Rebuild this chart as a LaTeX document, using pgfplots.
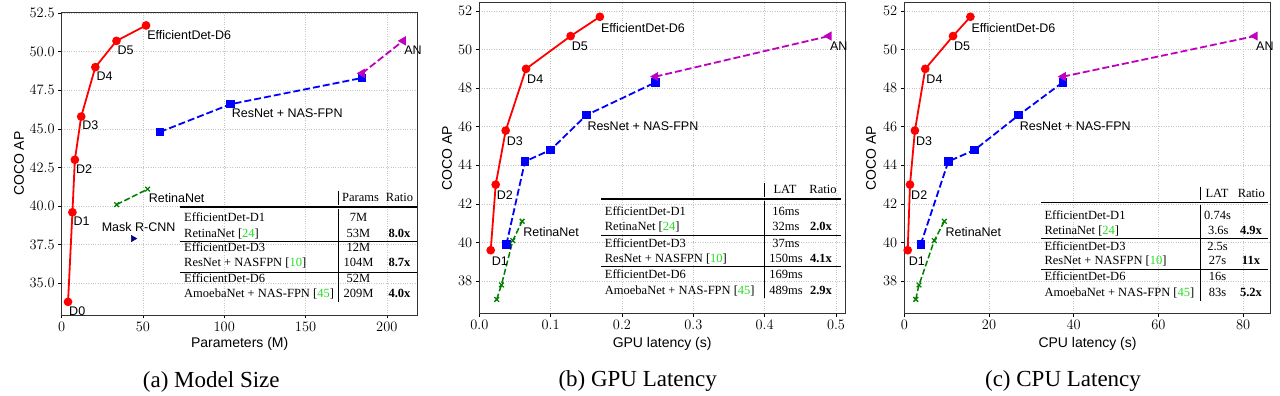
\documentclass[border=0pt]{standalone}
\usepackage{fontspec}
\setmainfont{Liberation Serif}
\newfontfamily\arial{Liberation Sans}
\usepackage{pgfplots}
\pgfplotsset{compat=1.18}
\definecolor{mplred}{HTML}{FF0000}
\definecolor{mplblue}{HTML}{0000FF}
\definecolor{mplgreen}{HTML}{008000}
\definecolor{mplmag}{HTML}{BF00BF}
\definecolor{mplnavy}{HTML}{000080}
\definecolor{citegreen}{HTML}{22E022}
\newcommand{\tabf}{\fontsize{12.5}{13}\selectfont}
\newcommand{\cit}[1]{[{\color{citegreen}#1}]}
\newcommand{\TL}[3]{\node[anchor=base west,inner sep=0pt,font=\tabf] at (#1,#2) {#3};}
\newcommand{\TC}[3]{\node[anchor=base,inner sep=0pt,font=\tabf] at (#1,#2) {#3};}
\pgfplotsset{
  common/.style={
    scale only axis, anchor=south west, clip=false,
    axis line style={black!80, line width=0.8pt},
    tick style={black, line width=0.6pt},
    tick align=outside, tick pos=left, major tick length=3.5pt,
    grid=major, major grid style={gray!45, dotted, line width=0.6pt},
    ticklabel style={font=\fontsize{14.5}{15}\selectfont},
    label style={font=\arial\fontsize{14}{15}\selectfont},
    ylabel={COCO AP},
  },
  effd/.style={color=mplred, line width=1.8pt, mark=*, mark size=3.4pt, mark options={solid}},
  resn/.style={color=mplblue, line width=1.8pt, dash pattern=on 7pt off 3pt, mark=square*, mark size=3.3pt, mark options={solid}},
  amoe/.style={color=mplmag, line width=1.8pt, dash pattern=on 7pt off 3pt, mark=triangle*, mark size=3.6pt, mark options={solid, rotate=90}},
  reti/.style={color=mplgreen, line width=1.5pt, dash pattern=on 6pt off 2.6pt, mark=x, mark size=3.3pt, mark options={solid, line width=1.3pt}},
  mask/.style={color=mplnavy, only marks, mark=triangle*, mark size=3.6pt, mark options={rotate=-90}},
}
\tikzset{
  lbla/.style={anchor=north west, inner sep=0pt, font=\arial\fontsize{12.5}{13}\selectfont, xshift=1pt, yshift=-4.5pt},
  lblb/.style={anchor=north west, inner sep=0pt, font=\arial\fontsize{12.5}{13}\selectfont, xshift=1pt, yshift=-6pt},
}
\begin{document}
\begin{tikzpicture}
\path[fill=white, use as bounding box] (0pt,0pt) rectangle (1280pt,396pt);

% ---------------- (a) Model size ----------------
\begin{axis}[common, at={(61.7pt,81pt)}, width=356pt, height=302.7pt,
  xmin=0, xmax=219, ymin=32.95, ymax=52.55,
  xtick={0,50,100,150,200}, ytick={35,37.5,40,42.5,45,47.5,50,52.5},
  yticklabel style={/pgf/number format/.cd, fixed, fixed zerofill, precision=1},
  xlabel={Parameters (M)},
  xlabel style={at={(axis description cs:0.5,-0.0968)}, anchor=center},
  ylabel style={at={(axis description cs:-0.12,0.5)}, anchor=center},
]
\addplot[effd] coordinates {(3.9,33.8) (6.6,39.6) (8.1,43.0) (12,45.8) (20.7,49.0) (33.7,50.7) (51.9,51.7)};
\addplot[resn] coordinates {(60.4,44.8) (103.9,46.6) (184.8,48.3)};
\addplot[amoe] coordinates {(184.8,48.6) (210,50.7)};
\addplot[reti] coordinates {(33.8,40.1) (52.9,41.1)};
\addplot[mask] coordinates {(44,37.9)};
\node[lbla] at (axis cs:3.9,33.8) {D0};
\node[lbla] at (axis cs:6.6,39.6) {D1};
\node[lbla] at (axis cs:8.1,43.0) {D2};
\node[lbla] at (axis cs:12,45.8) {D3};
\node[lbla] at (axis cs:20.7,49.0) {D4};
\node[lbla] at (axis cs:33.7,50.7) {D5};
\node[lbla] at (axis cs:51.9,51.7) {EfficientDet-D6};
\node[lbla] at (axis cs:103.9,46.6) {ResNet + NAS-FPN};
\node[lbla] at (axis cs:52.9,41.1) {RetinaNet};
\node[lbla] at (axis cs:210,50.7) {AN};
\node[anchor=south west, inner sep=0pt, font=\arial\fontsize{12.5}{13}\selectfont, xshift=-31.6pt, yshift=7pt] at (axis cs:44,37.9) {Mask R-CNN};
\end{axis}

% ---------------- (b) GPU latency ----------------
\begin{axis}[common, at={(479.3pt,82.7pt)}, width=365.7pt, height=310.6pt,
  xmin=0, xmax=0.5126, ymin=36.33, ymax=52.43,
  xtick={0,0.1,0.2,0.3,0.4,0.5}, ytick={38,40,42,44,46,48,50,52},
  xticklabel style={/pgf/number format/.cd, fixed, fixed zerofill, precision=1},
  xlabel={GPU latency (s)},
  xlabel style={at={(axis description cs:0.5,-0.0998)}, anchor=center},
  ylabel style={at={(axis description cs:-0.088,0.5)}, anchor=center},
]
\addplot[effd] coordinates {(0.016,39.6) (0.023,43.0) (0.037,45.8) (0.0655,49.0) (0.128,50.7) (0.169,51.7)};
\addplot[resn] coordinates {(0.038,39.9) (0.064,44.2) (0.1,44.8) (0.15,46.6) (0.247,48.3)};
\addplot[amoe] coordinates {(0.247,48.6) (0.490,50.7)};
\addplot[reti] coordinates {(0.0244,37.05) (0.031,37.8) (0.047,40.1) (0.060,41.1)};
\node[lblb] at (axis cs:0.016,39.6) {D1};
\node[lblb] at (axis cs:0.023,43.0) {D2};
\node[lblb] at (axis cs:0.037,45.8) {D3};
\node[lblb] at (axis cs:0.0655,49.0) {D4};
\node[lblb] at (axis cs:0.128,50.7) {D5};
\node[lblb] at (axis cs:0.169,51.7) {EfficientDet-D6};
\node[lblb] at (axis cs:0.15,46.6) {ResNet + NAS-FPN};
\node[lblb] at (axis cs:0.060,41.1) {RetinaNet};
\node[lblb] at (axis cs:0.490,50.7) {AN};
\end{axis}

% ---------------- (c) CPU latency ----------------
\begin{axis}[common, at={(904.3pt,82.7pt)}, width=366.4pt, height=310.6pt,
  xmin=0, xmax=86.5, ymin=36.33, ymax=52.43,
  xtick={0,20,40,60,80}, ytick={38,40,42,44,46,48,50,52},
  xlabel={CPU latency (s)},
  xlabel style={at={(axis description cs:0.5,-0.0998)}, anchor=center},
  ylabel style={at={(axis description cs:-0.091,0.5)}, anchor=center},
]
\addplot[effd] coordinates {(0.8,39.6) (1.35,43.0) (2.5,45.8) (4.95,49.0) (11.5,50.7) (15.6,51.7)};
\addplot[resn] coordinates {(3.87,39.9) (10.4,44.2) (16.6,44.8) (27.0,46.6) (37.4,48.3)};
\addplot[amoe] coordinates {(37.5,48.6) (82.8,50.7)};
\addplot[reti] coordinates {(2.7,37.05) (3.47,37.8) (7.08,40.1) (9.45,41.1)};
\node[lblb] at (axis cs:0.8,39.6) {D1};
\node[lblb] at (axis cs:1.35,43.0) {D2};
\node[lblb] at (axis cs:2.5,45.8) {D3};
\node[lblb] at (axis cs:4.95,49.0) {D4};
\node[lblb] at (axis cs:11.5,50.7) {D5};
\node[lblb] at (axis cs:15.6,51.7) {EfficientDet-D6};
\node[lblb] at (axis cs:27.0,46.6) {ResNet + NAS-FPN};
\node[lblb] at (axis cs:9.45,41.1) {RetinaNet};
\node[lblb] at (axis cs:82.8,50.7) {AN};
\end{axis}

% ---------------- tables (pixel coordinates, y downwards) ----------------
\begin{scope}[x=1pt, y=-1pt, shift={(0pt,396pt)}]
% table (a)
\draw[line width=1.2pt] (180,207) -- (416.7,207);
\draw[line width=0.7pt] (180,241) -- (416.7,241);
\draw[line width=0.7pt] (180,272) -- (416.7,272);
\draw[line width=0.6pt] (338,190.7) -- (338,204.8) (338,209.5) -- (338,301.7);
\TC{360.5}{201.8}{Params}
\TC{399.5}{201.8}{Ratio}
\TL{184}{221.8}{EfficientDet-D1} \TC{358.5}{221.8}{7M}
\TL{184}{237.3}{RetinaNet \cit{24}} \TC{358.5}{237.3}{53M} \TC{399.5}{237.3}{\textbf{8.0x}}
\TL{184}{252}{EfficientDet-D3} \TC{358.5}{252}{12M}
\TL{184}{267}{ResNet + NASFPN \cit{10}} \TC{358.5}{267}{104M} \TC{399.5}{267}{\textbf{8.7x}}
\TL{184}{282.8}{EfficientDet-D6} \TC{358.5}{282.8}{52M}
\TL{184}{297.8}{AmoebaNet + NAS-FPN \cit{45}} \TC{358.5}{297.8}{209M} \TC{399.5}{297.8}{\textbf{4.0x}}
% table (b)
\draw[line width=1.2pt] (601,199) -- (841,199);
\draw[line width=0.7pt] (601,235.4) -- (841,235.4);
\draw[line width=0.7pt] (601,266.7) -- (841,266.7);
\draw[line width=0.6pt] (764.3,183) -- (764.3,196.8) (764.3,201.5) -- (764.3,298.3);
\TC{785}{193.8}{LAT}
\TC{823}{193.8}{Ratio}
\TL{604.7}{215.3}{EfficientDet-D1} \TC{786}{215.3}{16ms}
\TL{604.7}{230.7}{RetinaNet \cit{24}} \TC{786}{230.7}{32ms} \TC{821}{230.7}{\textbf{2.0x}}
\TL{604.7}{247.1}{EfficientDet-D3} \TC{786}{247.1}{37ms}
\TL{604.7}{262.3}{ResNet + NASFPN \cit{10}} \TC{786}{262.3}{150ms} \TC{821}{262.3}{\textbf{4.1x}}
\TL{604.7}{278.8}{EfficientDet-D6} \TC{786}{278.8}{169ms}
\TL{604.7}{294.3}{AmoebaNet + NAS-FPN \cit{45}} \TC{786}{294.3}{489ms} \TC{821}{294.3}{\textbf{2.9x}}
% table (c)
\draw[line width=1.2pt] (1041,202.6) -- (1268,202.6);
\draw[line width=0.7pt] (1041,238.5) -- (1268,238.5);
\draw[line width=0.7pt] (1041,269.3) -- (1268,269.3);
\draw[line width=0.6pt] (1200.5,187) -- (1200.5,200.4) (1200.5,205) -- (1200.5,301);
\TC{1217}{197.6}{LAT}
\TC{1251.3}{197.6}{Ratio}
\TL{1044.3}{219.1}{EfficientDet-D1} \TC{1217.5}{219.1}{0.74s}
\TL{1044.3}{234.2}{RetinaNet \cit{24}} \TC{1218.3}{234.2}{3.6s} \TC{1251}{234.2}{\textbf{4.9x}}
\TL{1044.3}{250.2}{EfficientDet-D3} \TC{1217.5}{250.2}{2.5s}
\TL{1044.3}{265}{ResNet + NASFPN \cit{10}} \TC{1217.5}{265}{27s} \TC{1251}{265}{\textbf{11x}}
\TL{1044.3}{280.8}{EfficientDet-D6} \TC{1217.5}{280.8}{16s}
\TL{1044.3}{296.7}{AmoebaNet + NAS-FPN \cit{45}} \TC{1217.5}{296.7}{83s} \TC{1251}{296.7}{\textbf{5.2x}}
% captions
\node[font=\fontsize{23}{25}\selectfont, inner sep=0pt] at (211.3,381.5) {(a) Model Size};
\node[font=\fontsize{23}{25}\selectfont, inner sep=0pt] at (637.7,381.5) {(b) GPU Latency};
\node[font=\fontsize{23}{25}\selectfont, inner sep=0pt] at (1063,381.5) {(c) CPU Latency};
\end{scope}
\end{tikzpicture}
\end{document}
